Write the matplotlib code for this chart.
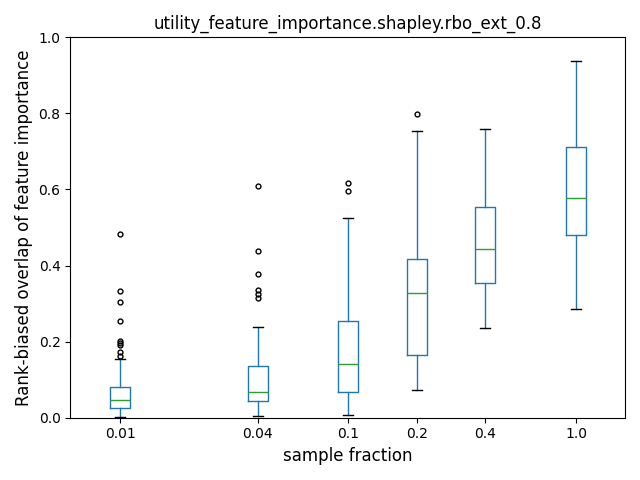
import numpy as np
import matplotlib.pyplot as plt

# sample fractions and the box statistics
fractions = [0.01, 0.04, 0.1, 0.2, 0.4, 1.0]
tick_labels = ["0.01", "0.04", "0.1", "0.2", "0.4", "1.0"]
q1 = [0.026, 0.043, 0.068, 0.165, 0.354, 0.481]
medians = [0.047, 0.068, 0.141, 0.328, 0.444, 0.578]
q3 = [0.082, 0.137, 0.254, 0.417, 0.554, 0.711]
whislo = [0.002, 0.005, 0.008, 0.073, 0.235, 0.286]
whishi = [0.155, 0.239, 0.525, 0.754, 0.760, 0.937]
fliers = [
    [0.482, 0.334, 0.305, 0.255, 0.203, 0.197, 0.192, 0.174, 0.163],
    [0.608, 0.439, 0.379, 0.335, 0.325, 0.314],
    [0.618, 0.597],
    [0.799],
    [],
    [],
]

stats = []
for i in range(len(fractions)):
    stats.append({
        "q1": q1[i], "med": medians[i], "q3": q3[i],
        "whislo": whislo[i], "whishi": whishi[i],
        "fliers": fliers[i],
    })

positions = np.log10(fractions)

fig, ax = plt.subplots(figsize=(6.4, 4.8), dpi=100)
ax.bxp(
    stats,
    positions=positions,
    widths=0.088,
    boxprops=dict(color="#1f77b4"),
    whiskerprops=dict(color="#1f77b4"),
    medianprops=dict(color="#2ca02c"),
    capprops=dict(color="k"),
    flierprops=dict(marker="o", markersize=3.5, markerfacecolor="none",
                    markeredgecolor="k"),
)
ax.set_xticks(positions)
ax.set_xticklabels(tick_labels)
ax.set_xlim(-2.22, 0.215)
ax.set_ylim(0, 1.0)
ax.set_title("utility_feature_importance.shapley.rbo_ext_0.8")
ax.set_xlabel("sample fraction", fontsize=12)
ax.set_ylabel("Rank-biased overlap of feature importance", fontsize=12)

plt.tight_layout()
plt.savefig("out.png", dpi=100)
plt.close()
